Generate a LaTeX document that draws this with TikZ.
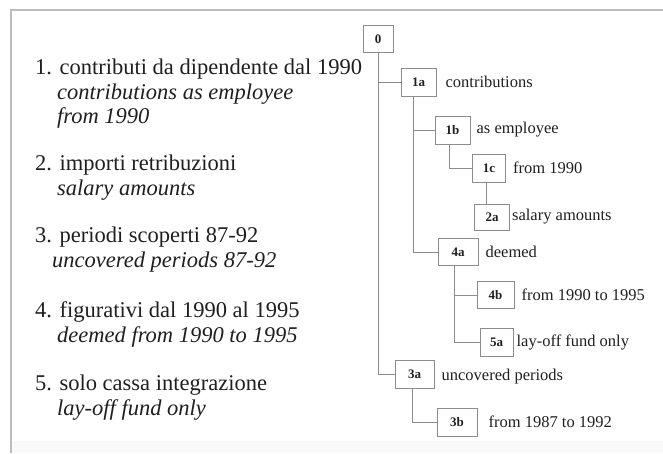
\documentclass[tikz,border=0pt]{standalone}
\usepackage{fontspec}
\setmainfont{Liberation Serif}
\usetikzlibrary{positioning}
\definecolor{linegray}{gray}{0.55}
\definecolor{framegray}{gray}{0.74}
\definecolor{inkgray}{gray}{0.12}

\begin{document}
\begin{tikzpicture}[x=1pt,y=-1pt,
    box/.style={draw=linegray,line width=0.9pt,minimum width=35pt,minimum height=28pt,
      inner sep=0pt,text=inkgray,font=\fontsize{13}{13}\selectfont\bfseries},
    lbl/.style={inner sep=0pt,text=inkgray,font=\fontsize{16.5}{18}\selectfont},
    txt/.style={anchor=base west,inner sep=0pt,text=inkgray,font=\fontsize{22.5}{24}\selectfont},
    eng/.style={txt,font=\fontsize{22.5}{24}\selectfont\itshape},
    link/.style={draw=linegray,line width=0.9pt}]
    \useasboundingbox (0,0) rectangle (663,453);
    % frame
    \fill[gray!5] (11,441) rectangle (663,453);
    \draw[framegray,line width=1.8pt] (663,10) -- (11,10) -- (11,453);

    % left column
    \node[txt] (t1) at (35,74.5)  {1. contributi da dipendente dal 1990};
    \node[eng] (e1) at (57,99)    {contributions as employee};
    \node[eng] (f1) at (57,123.5) {from 1990};
    \node[txt] (t2) at (35,170.5) {2. importi retribuzioni};
    \node[eng] (e2) at (57,195)   {salary amounts};
    \node[txt] (t3) at (35,242.5) {3. periodi scoperti 87-92};
    \node[eng] (e3) at (52,267)   {uncovered periods 87-92};
    \node[txt] (t4) at (35,317.5) {4. figurativi dal 1990 al 1995};
    \node[eng] (e4) at (57,342)   {deemed from 1990 to 1995};
    \node[txt] (t5) at (35,390.5) {5. solo cassa integrazione};
    \node[eng] (e5) at (57,415)   {lay-off fund only};

    % tree
    \node[box,minimum width=30pt,minimum height=27pt] (0) at (378,39) {0};
    \node[box] (1a) at (418.5,82)  {1a};
    \node[box] (1b) at (452.5,130) {1b};
    \node[box,minimum width=33pt] (1c) at (489,168) {1c};
    \node[box,minimum height=26pt] (2a) at (492,217) {2a};
    \node[box,minimum width=40pt,minimum height=27pt] (4a) at (458,252) {4a};
    \node[box,minimum width=37pt,minimum height=27pt] (4b) at (495.5,295) {4b};
    \node[box,minimum width=33pt] (5a) at (496.5,342) {5a};
    \node[box,minimum width=39pt] (3a) at (414.5,374) {3a};
    \node[box,minimum width=40pt] (3b) at (457,422) {3b};

    \node[lbl,right=9pt of 1a]  (l1a) {contributions};
    \node[lbl,right=6pt of 1b]  (l1b) {as employee};
    \node[lbl,right=7pt of 1c]  (l1c) {from 1990};
    \node[lbl,right=2pt of 2a]  (l2a) {salary amounts};
    \node[lbl,right=7pt of 4a]  (l4a) {deemed};
    \node[lbl,right=7pt of 4b]  (l4b) {from 1990 to 1995};
    \node[lbl,right=3pt of 5a]  (l5a) {lay-off fund only};
    \node[lbl,right=7pt of 3a,yshift=-3pt] (l3a) {uncovered periods};
    \node[lbl,right=11pt of 3b] (l3b) {from 1987 to 1992};

    \draw[link] (0.south) |- (3a.west);
    \draw[link] (0.south |- 1a.west) -- (1a.west);
    \draw[link] ([xshift=-5pt]1a.south) |- (4a.west);
    \draw[link] ([xshift=-5pt]1a.south |- 1b.west) -- (1b.west);
    \draw[link] ([xshift=-3pt]1b.south) |- (1c.west);
    \draw[link] ([xshift=-3pt]1c.south) -- ([xshift=-3pt]1c.south |- 2a.north);
    \draw[link] ([xshift=-4pt]4a.south) |- (5a.west);
    \draw[link] ([xshift=-4pt]4a.south |- 4b.west) -- (4b.west);
    \draw[link] ([xshift=-2pt]3a.south) |- (3b.west);
\end{tikzpicture}
\end{document}
